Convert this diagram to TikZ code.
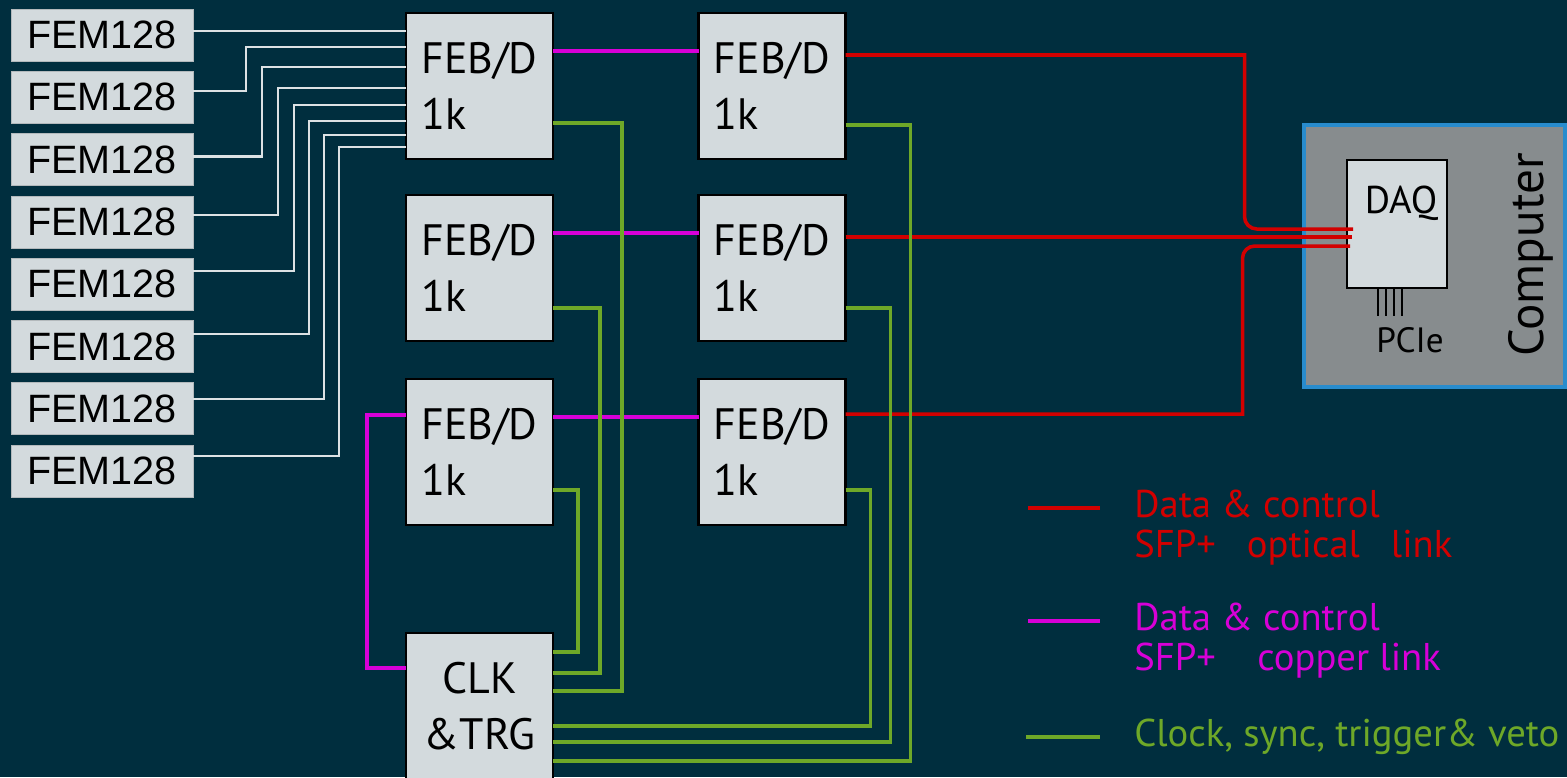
\documentclass[tikz,border=0pt]{standalone}
\usepackage{fontspec}
\setmainfont{PT Sans}
\newfontfamily\femfont{Liberation Sans}
\usetikzlibrary{calc}
\definecolor{bgteal}{RGB}{0,46,62}
\definecolor{boxgrey}{RGB}{211,218,221}
\definecolor{pcgrey}{RGB}{135,140,142}
\definecolor{pcblue}{RGB}{40,140,205}
\definecolor{optred}{RGB}{210,0,0}
\definecolor{cumagenta}{RGB}{215,0,215}
\definecolor{clkgreen}{RGB}{110,168,40}
\definecolor{femwhite}{RGB}{220,226,228}

\begin{document}
\begin{tikzpicture}[x=0.2mm, y=-0.2mm,
    fem/.style={rectangle, fill=boxgrey, draw=boxgrey!85!black, line width=0.4pt,
                minimum width=3.64cm, minimum height=1.04cm,
                inner sep=0pt, outer sep=0pt,
                font=\femfont\fontsize{22.5}{26}\selectfont},
    feb/.style={rectangle, fill=boxgrey, draw=black, line width=1.5pt,
                minimum width=2.94cm, minimum height=2.92cm,
                inner sep=0pt, outer sep=0pt, align=left,
                font=\fontsize{25}{32}\selectfont},
    pcbox/.style={rectangle, fill=pcgrey, draw=pcblue, line width=1.9pt,
                  minimum width=5.22cm, minimum height=5.24cm,
                  inner sep=0pt, outer sep=0pt},
    lab/.style={inner sep=0pt, font=\fontsize{22}{24}\selectfont},
    legtext/.style={anchor=west, align=left, inner sep=0pt,
                    font=\fontsize{22}{22.7}\selectfont},
    femlink/.style={draw=femwhite, line width=1.3pt},
    culink/.style={draw=cumagenta, line width=2pt},
    optlink/.style={draw=optred, line width=2pt},
    clklink/.style={draw=clkgreen, line width=2pt},
]

\useasboundingbox (0,0) rectangle (1567,777);
\fill[bgteal] (0,0) rectangle (1567,777);

%---------------------------------------------------------------
% LEFT: eight FEM128 front-end modules
%---------------------------------------------------------------
\foreach \i in {1,...,8} {
    \node[fem] (fem\i) at (102, {35+62.3*(\i-1)}) {FEM128};
}

%---------------------------------------------------------------
% MIDDLE: FEB/D boards (two columns) and the clock/trigger unit
%---------------------------------------------------------------
\foreach \k/\yc in {1/86, 2/268, 3/452} {
    \node[feb] (febin\k) at (479.5, \yc) {FEB/D\\1k};
    \node[feb] (febout\k) at (772, \yc) {FEB/D\\1k};
}
\node[feb, align=center] (clk) at (479.5, 706) {CLK\\\&TRG};

%---------------------------------------------------------------
% RIGHT: computer with the DAQ card
%---------------------------------------------------------------
\node[pcbox] (pc) at (1434.5, 256) {};
\node[feb, minimum width=2.0cm, minimum height=2.56cm] (daq) at (1397, 224) {};
\node[lab] (daqlabel) at (1401, 203) {DAQ};
\foreach \dx in {-19,-11,-3,5} {
    \draw[line width=1.3pt] ($(daq.south)+(\dx,0)$) -- ++(0,28);
}
\node[lab, font=\fontsize{20}{22}\selectfont] (pcie) at (1410, 340) {PCIe};
\node[lab, rotate=90, font=\fontsize{28}{30}\selectfont] (pclabel) at (1531, 255) {Computer};

% FEM128 -> first FEB/D
\foreach \i/\dy/\xv/\yv in {1/-4/300/31, 2/-6.5/246/47, 3/-3/262/67,
                            4/-7/278/88, 5/-13.5/294/105, 6/-12.5/309/121,
                            7/-10/324/135, 8/-15/339/147} {
    \draw[femlink] ($(fem\i.east)+(0,\dy)$) -| (\xv,\yv) -- (febin1.west |- 0,\yv);
}

% copper links
\foreach \k in {1,2,3} {
    \draw[culink] ($(febin\k.east)+(0,-35)$) -- ($(febout\k.west)+(0,-35)$);
}
\draw[culink] ($(febin3.west)+(0,-37)$) -- ++(-39,0) |- ($(clk.west)+(0,-38)$);

% optical links to the DAQ
\draw[optlink] ($(febout1.east)+(0,-31)$) -- ++(399,0)
    [rounded corners=7pt] |- ($(daq.west)+(6,5)$);
\draw[optlink] ($(febout2.east)+(0,-31)$) -- ($(daq.west)+(5,13)$);
\draw[optlink] ($(febout3.east)+(0,-38)$) -- ++(397,0)
    [rounded corners=7pt] |- ($(daq.west)+(3,22)$);

% clock, sync, trigger fan-out
\foreach \src/\dy/\run/\dc in {febin1/37/69/-15, febin2/40/47/-33, febin3/38/25/-54,
                               febout1/39/65/55, febout2/40/45/36, febout3/38/25/20} {
    \draw[clklink] ($(\src.east)+(0,\dy)$) -- ++(\run,0) |- ($(clk.east)+(0,\dc)$);
}

%---------------------------------------------------------------
% Legend
%---------------------------------------------------------------
\node[legtext, text=optred] (legopt) at (1134, 528)
     {Data \& control\\SFP+\ \ \ optical\ \ \ link};
\node[legtext, text=cumagenta] (legcu) at (1134, 641)
     {Data \& control\\SFP+\ \ \ \ copper link};
\node[legtext, text=clkgreen] (legclk) at (1134, 737)
     {Clock, sync, trigger\& veto};
\draw[optlink] ($(legopt.west)+(-106,-20)$) -- ++(72,0);
\draw[culink] ($(legcu.west)+(-106,-20)$) -- ++(72,0);
\draw[clklink] ($(legclk.west)+(-108,0)$) -- ++(74,0);

\end{tikzpicture}
\end{document}
